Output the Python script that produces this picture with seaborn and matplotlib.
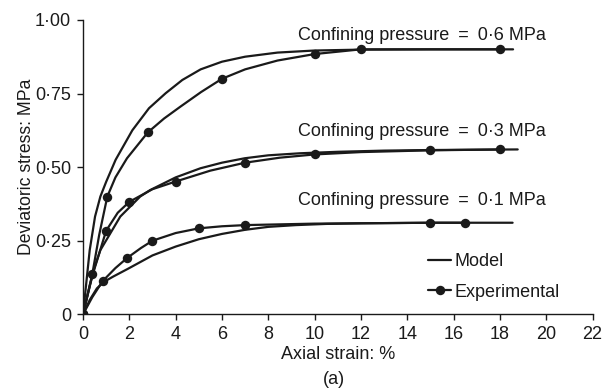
import numpy as np
import pandas as pd
import matplotlib
matplotlib.use("Agg")
import matplotlib.pyplot as plt
from matplotlib.lines import Line2D
import seaborn as sns

# ---- data -------------------------------------------------------------
# Measured triaxial points (axial strain %, deviatoric stress MPa)
exp_strain_06 = [0, 0.4, 1.05, 2.8, 6.0, 10.0, 12.0, 18.0]
exp_stress_06 = [0, 0.136, 0.40, 0.618, 0.80, 0.884, 0.90, 0.90]

exp_strain_03 = [0, 1.0, 2.0, 4.0, 7.0, 10.0, 15.0, 18.0]
exp_stress_03 = [0, 0.284, 0.382, 0.451, 0.515, 0.543, 0.557, 0.560]

exp_strain_01 = [0, 0.85, 1.9, 3.0, 5.0, 7.0, 15.0, 16.5]
exp_stress_01 = [0, 0.113, 0.191, 0.250, 0.292, 0.303, 0.311, 0.311]

# Smooth curves drawn through the measured points
curve_strain_06 = [0, 0.4, 0.7, 1.05, 1.4, 1.9, 2.8, 3.5, 4.2, 5.1, 6.0, 7.0, 8.4, 10.0, 12.0, 18.0]
curve_stress_06 = [0, 0.136, 0.27, 0.40, 0.465, 0.53, 0.618, 0.665, 0.705, 0.755, 0.80, 0.832, 0.862, 0.884, 0.90, 0.90]

curve_strain_03 = [0, 0.4, 1.0, 1.5, 2.0, 3.0, 4.0, 5.5, 7.0, 8.5, 10.0, 12.0, 15.0, 18.0]
curve_stress_03 = [0, 0.13, 0.284, 0.345, 0.382, 0.425, 0.451, 0.488, 0.515, 0.532, 0.543, 0.551, 0.557, 0.560]

curve_strain_01 = [0, 0.4, 0.85, 1.4, 1.9, 2.5, 3.0, 4.0, 5.0, 6.0, 7.0, 10.0, 15.0, 16.5]
curve_stress_01 = [0, 0.058, 0.113, 0.157, 0.191, 0.225, 0.250, 0.276, 0.292, 0.299, 0.303, 0.308, 0.311, 0.311]

# Model predictions
mod_strain_06 = [0, 0.14, 0.29, 0.52, 0.75, 1.0, 1.41, 2.13, 2.85, 3.57, 4.29, 5.08, 6.0, 7.0, 8.4, 10.0, 12.0, 15.0, 18.57]
mod_stress_06 = [0, 0.105, 0.218, 0.332, 0.40, 0.45, 0.525, 0.625, 0.700, 0.751, 0.796, 0.832, 0.858, 0.875, 0.889, 0.896, 0.899, 0.900, 0.900]

mod_strain_03 = [0, 0.3, 0.5, 0.75, 1.61, 2.47, 2.9, 4.0, 5.07, 6.0, 6.98, 8.0, 9.38, 11.0, 13.0, 15.0, 18.77]
mod_stress_03 = [0, 0.10, 0.16, 0.218, 0.332, 0.400, 0.422, 0.465, 0.496, 0.515, 0.530, 0.540, 0.547, 0.552, 0.556, 0.558, 0.560]

mod_strain_01 = [0, 0.3, 0.6, 0.9, 1.3, 1.95, 3.0, 4.0, 5.0, 6.0, 7.0, 8.0, 9.2, 10.5, 12.0, 15.0, 18.55]
mod_stress_01 = [0, 0.05, 0.088, 0.110, 0.128, 0.155, 0.200, 0.230, 0.255, 0.273, 0.287, 0.297, 0.303, 0.307, 0.309, 0.311, 0.311]

pressure_labels = ["Confining pressure\u2002=\u20020·6 MPa",
                   "Confining pressure\u2002=\u20020·3 MPa",
                   "Confining pressure\u2002=\u20020·1 MPa"]
label_y = [0.946, 0.620, 0.386]

x_ticks = list(range(0, 23, 2))
y_ticks = [0, 0.25, 0.50, 0.75, 1.00]
y_tick_labels = ["0", "0·25", "0·50", "0·75", "1·00"]

# ---- figure ---------------------------------------------------------
sns.set_theme(style="ticks")
plt.rcParams["font.family"] = ["Liberation Sans", "DejaVu Sans"]
FS = 13

fig = plt.figure(figsize=(6.15, 3.92), dpi=100)
ax = fig.add_axes([83 / 615, 1 - 314.3 / 392, (592.5 - 83) / 615, (314.3 - 19.9) / 392])

ink = "#1a1a1a"
lw = 1.6
msize = 6.8

model_sets = [(mod_strain_06, mod_stress_06), (mod_strain_03, mod_stress_03), (mod_strain_01, mod_stress_01)]
curve_sets = [(curve_strain_06, curve_stress_06), (curve_strain_03, curve_stress_03), (curve_strain_01, curve_stress_01)]
exp_sets = [(exp_strain_06, exp_stress_06), (exp_strain_03, exp_stress_03), (exp_strain_01, exp_stress_01)]

for xs, ys in model_sets + curve_sets:
    df = pd.DataFrame({"strain": xs, "stress": ys})
    sns.lineplot(data=df, x="strain", y="stress", ax=ax, color=ink, lw=lw,
                 sort=False, estimator=None)

for xs, ys in exp_sets:
    df = pd.DataFrame({"strain": xs, "stress": ys})
    sns.scatterplot(data=df, x="strain", y="stress", ax=ax, color=ink,
                    s=msize ** 2, linewidth=0, zorder=5)

for txt, yy in zip(pressure_labels, label_y):
    ax.text(19.97, yy, txt, ha="right", va="center", fontsize=FS, color=ink)

ax.set_xlim(0, 22)
ax.set_ylim(0, 1.0)
ax.set_xticks(x_ticks)
ax.set_xticklabels([str(t) for t in x_ticks])
ax.set_yticks(y_ticks)
ax.set_yticklabels(y_tick_labels)
ax.tick_params(axis="both", direction="out", length=4.5, width=1.0,
               labelsize=FS, colors=ink, pad=4)
for side in ("top", "right"):
    ax.spines[side].set_visible(False)
for side in ("left", "bottom"):
    ax.spines[side].set_linewidth(1.0)
    ax.spines[side].set_color(ink)
ax.spines["left"].set_bounds(0, 1.0)
ax.spines["bottom"].set_bounds(0, 22)

ax.set_xlabel("Axial strain: %", fontsize=FS, color=ink, labelpad=2)
ax.set_ylabel("Deviatoric stress: MPa", fontsize=12.7, color=ink)
ax.yaxis.set_label_coords(-0.094, 0.5)
fig.text(334 / 615, 1 - 379 / 392, "(a)", ha="center", va="center", fontsize=FS, color=ink)

handles = [Line2D([], [], color=ink, lw=lw),
           Line2D([], [], color=ink, lw=lw, marker="o", markersize=msize, markeredgewidth=0)]
ax.legend(handles, ["Model", "Experimental"], loc="upper left",
          bbox_to_anchor=(428 / 615, 1 - 253 / 392), bbox_transform=fig.transFigure,
          frameon=False, fontsize=FS, handlelength=1.3, handletextpad=0.15,
          labelspacing=0.75, borderpad=0, borderaxespad=0, labelcolor=ink)

fig.savefig("out.png", dpi=100)
